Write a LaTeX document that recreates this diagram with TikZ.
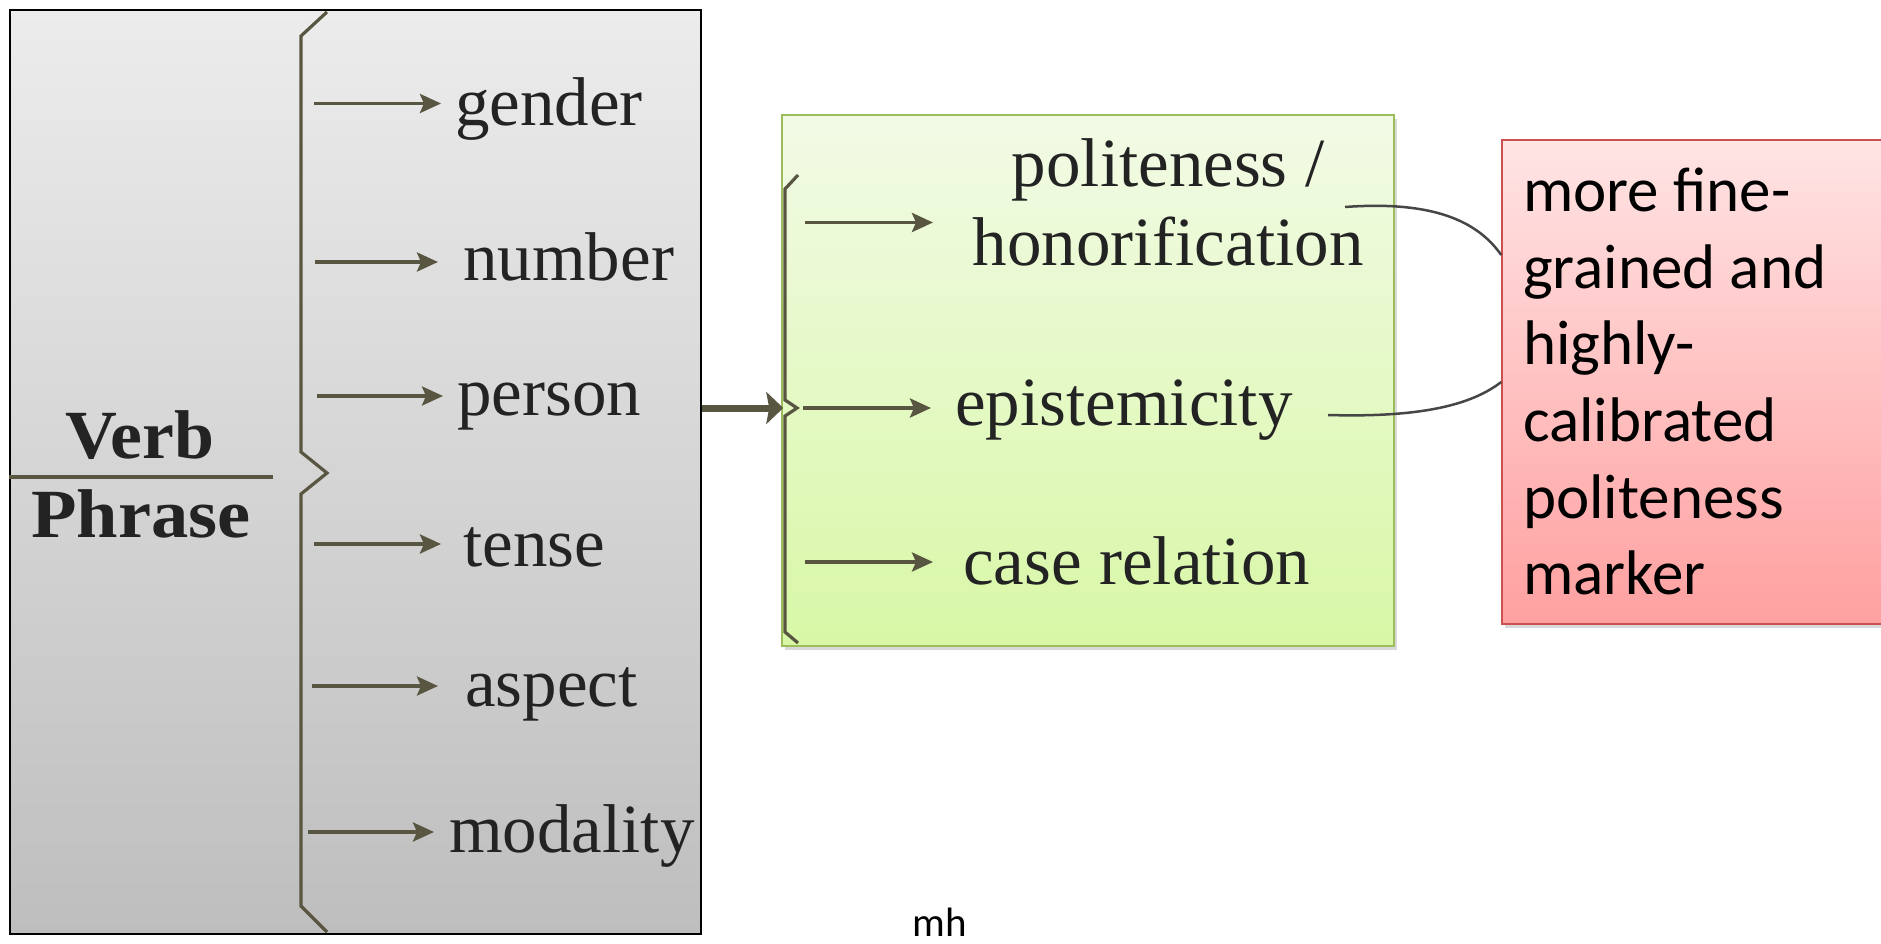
\documentclass[tikz,border=0pt]{standalone}
\usepackage{fontspec}
\setmainfont{Liberation Serif}
\newfontfamily\calfont{Carlito}
\usetikzlibrary{arrows.meta,shadows}
\definecolor{brk}{RGB}{88,86,64}
\definecolor{txt}{RGB}{35,35,35}
\definecolor{lgtop}{RGB}{236,236,236}
\definecolor{lgbot}{RGB}{190,190,190}
\definecolor{grtop}{RGB}{242,250,230}
\definecolor{grbot}{RGB}{216,248,166}
\definecolor{grbd}{RGB}{155,190,90}
\definecolor{rdtop}{RGB}{255,228,228}
\definecolor{rdbot}{RGB}{255,160,160}
\definecolor{rdbd}{RGB}{205,80,80}
\definecolor{crv}{RGB}{70,70,70}
\begin{document}
\begin{tikzpicture}[x=1pt,y=-1pt,
  lbl/.style={anchor=base west, inner sep=0pt, text=txt, font=\fontsize{69}{83}\selectfont},
  arr/.style={draw=brk, line width=3.8pt, -{Stealth[length=21pt,width=19pt,inset=4pt]}},
  bigarr/.style={draw=brk, line width=7pt, -{Stealth[length=17pt,width=32pt,inset=3pt]}},
  brace/.style={draw=brk, line width=3.2pt, line join=miter},
  curve/.style={draw=crv, line width=2.5pt},
  bold/.style={anchor=base, inner sep=0pt, text=txt, font=\bfseries\fontsize{69}{83}\selectfont},
  shd/.style={drop shadow={shadow xshift=3pt, shadow yshift=-4pt, opacity=0.3}}
]
\useasboundingbox (0,0) rectangle (1881,944);
\clip (0,0) rectangle (1881,944);

% boxes
\node[draw=black, line width=1.5pt, top color=lgtop, bottom color=lgbot,
      minimum width=691pt, minimum height=924pt, inner sep=0pt] (vp) at (355.5,472) {};
\node[shd, draw=grbd, line width=1.5pt, top color=grtop, bottom color=grbot,
      minimum width=612pt, minimum height=531pt, inner sep=0pt] (gr) at (1088,380.5) {};
\node[shd, draw=rdbd, line width=1.5pt, top color=rdtop, bottom color=rdbot,
      minimum width=420pt, minimum height=484pt, inner sep=0pt] (rd) at (1712,382) {};

% Verb Phrase
\node[bold] (verb) at (140,458) {\scalebox{1.04}[1]{Verb}};
\node[bold] (phrase) at (141,537) {\scalebox{1.08}[1]{Phrase}};
\coordinate (vl) at (273,477);
\draw[brk, line width=4pt] (vp.west |- vl) -- (vl);

% left brace
\draw[brace] (327,12) -- (301,36) -- (301,452) -- (327,473) -- (301,494) -- (301,906) -- (327,932);

% left labels
\node[lbl] (gender) at (455,126) {gender};
\node[lbl] (number) at (463,280) {number};
\node[lbl] (person) at (457,415) {person};
\node[lbl] (tense) at (463,566) {tense};
\node[lbl] (aspect) at (465,706) {aspect};
\node[lbl] (modality) at (449,852) {modality};

\coordinate (a1s) at (314,103.5); \coordinate (a1e) at (441,103.5);
\coordinate (a2s) at (315,262);   \coordinate (a2e) at (438,262);
\coordinate (a3s) at (317,396);   \coordinate (a3e) at (443,396);
\coordinate (a4s) at (314,544);   \coordinate (a4e) at (441,544);
\coordinate (a5s) at (312,686);   \coordinate (a5e) at (438,686);
\coordinate (a6s) at (308,832);   \coordinate (a6e) at (434,832);
\draw[arr] (a1s) -- (a1e);
\draw[arr] (a2s) -- (a2e);
\draw[arr] (a3s) -- (a3e);
\draw[arr] (a4s) -- (a4e);
\draw[arr] (a5s) -- (a5e);
\draw[arr] (a6s) -- (a6e);

% big arrow
\coordinate (mid) at (0,408);
\draw[bigarr] (vp.east |- mid) -- ([xshift=2pt]gr.west |- mid);

% inner brace
\draw[brace] (798,175) -- (785,189) -- (785,400) -- (797,408) -- (785,416) -- (785,632) -- (798,643);

% green labels
\node[anchor=base, inner sep=0pt, text=txt, font=\fontsize{69}{83}\selectfont] (pol) at (1168,186) {politeness /};
\node[anchor=base, inner sep=0pt, text=txt, font=\fontsize{69}{83}\selectfont] (hon) at (1168,265) {honorification};
\node[lbl] (epi) at (955,425) {epistemicity};
\node[lbl] (case) at (963,584) {case relation};

\coordinate (b1s) at (805,222.5); \coordinate (b1e) at (933,222.5);
\coordinate (b2s) at (803,408);   \coordinate (b2e) at (931,408);
\coordinate (b3s) at (805,562);   \coordinate (b3e) at (933,562);
\draw[arr] (b1s) -- (b1e);
\draw[arr] (b2s) -- (b2e);
\draw[arr] (b3s) -- (b3e);

% curves to red box
\coordinate (h1) at (1345,207);
\coordinate (e1) at (1328,415);
\draw[curve] (h1) .. controls (1440,200) and (1480,225) .. ([yshift=127pt]rd.west);
\draw[curve] (e1) .. controls (1430,418) and (1475,402) .. (rd.west);

% red text
\node[anchor=north west, inner sep=0pt, align=left, text=black,
      font=\calfont\fontsize{63}{76.6}\selectfont] (rdtxt) at (1523,168)
  {more fine-\\grained and\\highly-\\calibrated\\politeness\\marker};

% mh
\node[anchor=base, inner sep=0pt, text=black, font=\calfont\fontsize{41}{49}\selectfont] (mh) at (940,936) {mh};
\end{tikzpicture}
\end{document}
